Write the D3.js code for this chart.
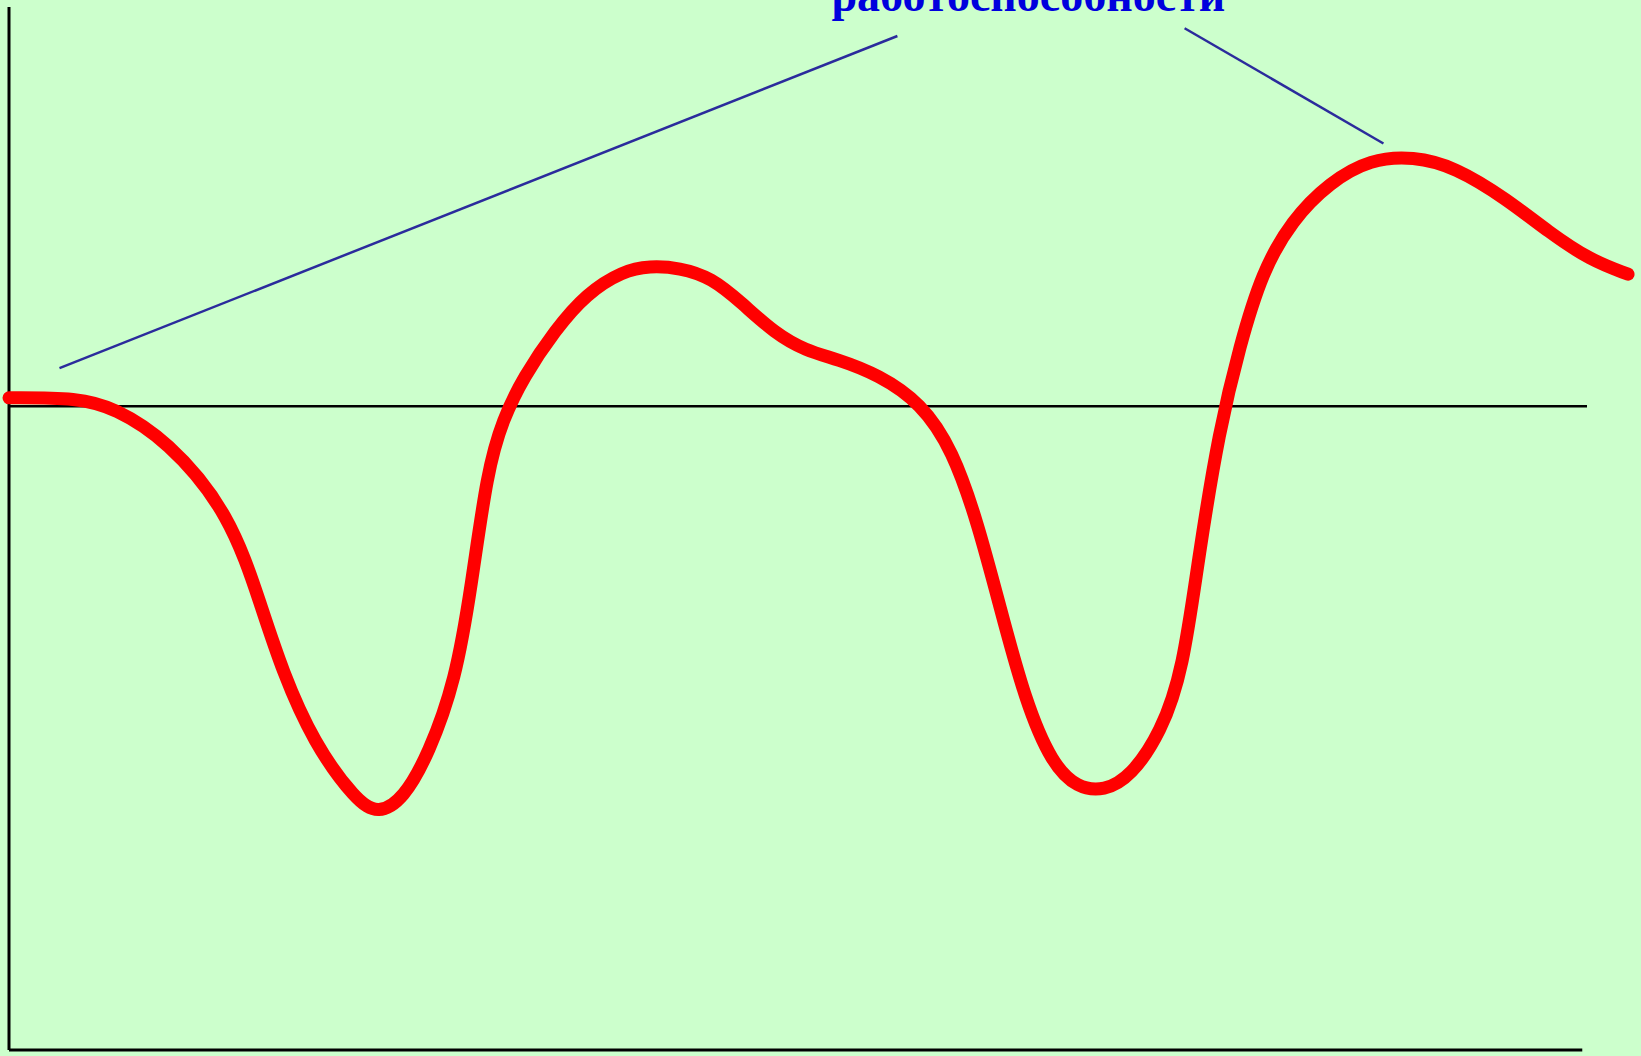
<!DOCTYPE html>
<html><head><meta charset="utf-8">
<script src="https://cdn.jsdelivr.net/npm/d3@7"></script>
<style>html,body{margin:0;padding:0;background:#ccffcc;overflow:hidden}</style>
</head><body>
<script>
// Time (arbitrary units) and performance relative to baseline level
const timeValues = [0, 4.4, 6.7, 10.0, 14.0, 16.0, 17.3, 19.3, 22.0, 23.4, 25.0, 26.6, 28.3, 29.3, 30.3, 31.3, 32.6, 34.6, 36.6, 38.9, 40.6, 42.5, 44.5, 46.5, 48.5, 50.5, 52.5, 55.1, 57.8, 59.8, 61.4, 62.8, 64.4, 66.1, 67.7, 69.4, 71.1, 73.0, 74.4, 75.4, 76.7, 78.0, 79.4, 81.3, 83.7, 86.3, 89.0, 91.6, 94.9, 97.6, 100.2, 102.6];
const performance = [1.3, 1.3, -0.3, -5.2, -16.6, -31.2, -41.0, -52.3, -61.3, -63.4, -61.0, -54.0, -42.6, -28.0, -10.1, -2.0, 4.5, 11.8, 17.5, 21.0, 21.8, 21.5, 20.0, 15.9, 11.4, 8.6, 7.3, 4.9, 0.5, -6.8, -18.2, -31.2, -45.8, -55.6, -59.3, -59.8, -57.5, -50.7, -41.0, -23.1, -3.6, 9.4, 20.8, 28.9, 34.8, 38.4, 38.8, 37.2, 32.2, 27.0, 22.7, 20.5];
// Pointer lines from the label to the two rising phases
const pointerStart = [[3.2, 5.9], [87.1, 40.8]];
const pointerEnd = [[56.3, 57.5], [74.5, 58.7]];
const labelText = "работоспособности";
const labelPos = [64.6, 61.4];

const W = 1641, H = 1056;
const svg = d3.select("body").append("svg").attr("width", W).attr("height", H);
svg.append("rect").attr("width", W).attr("height", H).attr("fill", "#ccffcc");

const x = d3.scaleLinear().domain([0, 100]).range([9, 1587]);
const y = d3.scaleLinear().domain([-100, 62]).range([1050, 7]);

// axes
svg.append("line").attr("x1", x(0)).attr("x2", x(0)).attr("y1", y(62)).attr("y2", y(-100))
  .attr("stroke", "#000").attr("stroke-width", 3);
svg.append("line").attr("x1", x(0)).attr("x2", x(99.7)).attr("y1", y(-100)).attr("y2", y(-100))
  .attr("stroke", "#000").attr("stroke-width", 3);
svg.append("line").attr("x1", x(0)).attr("x2", x(100)).attr("y1", y(0)).attr("y2", y(0))
  .attr("stroke", "#000").attr("stroke-width", 2.5);

// pointer lines
pointerStart.forEach((s, i) => {
  const e = pointerEnd[i];
  svg.append("line").attr("x1", x(s[0])).attr("y1", y(s[1])).attr("x2", x(e[0])).attr("y2", y(e[1]))
    .attr("stroke", "#2b2b9c").attr("stroke-width", 2.5);
});

// label
svg.append("text").attr("x", x(labelPos[0])).attr("y", y(labelPos[1]))
  .attr("text-anchor", "middle").attr("font-family", "'Liberation Serif', 'Times New Roman', serif")
  .attr("font-weight", "bold").attr("font-size", 46).attr("fill", "#0000dd").text(labelText);

// curve
const pts = timeValues.map((t, i) => [t, performance[i]]);
const line = d3.line().x(d => x(d[0])).y(d => y(d[1])).curve(d3.curveBasis);
svg.append("path").attr("d", line(pts)).attr("fill", "none").attr("stroke", "#ff0000")
  .attr("stroke-width", 13).attr("stroke-linecap", "round").attr("stroke-linejoin", "round");
</script>
</body></html>
